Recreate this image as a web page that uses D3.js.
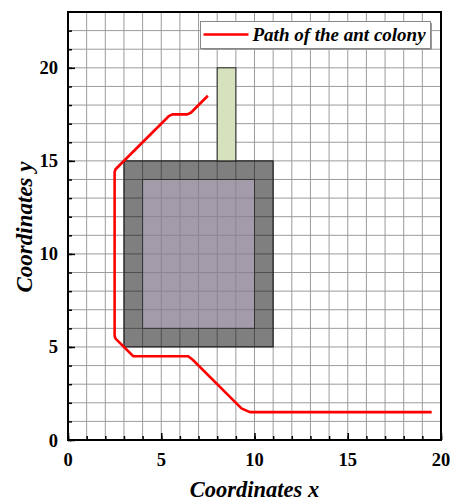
<!DOCTYPE html>
<html>
<head>
<meta charset="utf-8">
<script src="https://cdn.jsdelivr.net/npm/d3@7"></script>
<style>
  body { margin: 0; background: #fff; }
  svg { display: block; }
  text { font-family: "Liberation Serif", "Times New Roman", serif; }
</style>
</head>
<body>
<svg id="chart" width="451" height="504"></svg>
<script>
// Axis ranges and tick values
const xDomain = [0, 20];
const yDomain = [0, 23];
const majorTicksX = [0, 5, 10, 15, 20];
const majorTicksY = [0, 5, 10, 15, 20];
const minorTicksX = d3.range(0, 21, 1);
const minorTicksY = d3.range(0, 23, 1);

// Obstacles: outer wall, inner room, chimney (x0, x1, y0, y1)
const blockX0 = [3, 4, 8];
const blockX1 = [11, 10, 9];
const blockY0 = [5, 6, 15];
const blockY1 = [15, 14, 20];

// Route of the ant colony
const pathX = [19.5, 9.75, 9.3, 6.7, 6.45, 3.5, 2.55, 2.5, 2.5, 2.55, 5.4, 5.6, 6.4, 6.6, 7.5];
const pathY = [1.5, 1.5, 1.7, 4.3, 4.5, 4.5, 5.45, 5.6, 14.4, 14.55, 17.4, 17.5, 17.5, 17.6, 18.5];

const legendLabel = "Path of the ant colony";
const xTitle = "Coordinates x";
const yTitle = "Coordinates y";

const W = 451, H = 504;
const margin = { left: 68, right: 10, top: 12, bottom: 64 };
const svg = d3.select("#chart");

const x = d3.scaleLinear().domain(xDomain).range([margin.left, W - margin.right]);
const y = d3.scaleLinear().domain(yDomain).range([H - margin.bottom, margin.top]);

const plot = svg.append("g");

// background grid
plot.append("g").selectAll("line").data(minorTicksX).join("line")
  .attr("x1", d => x(d)).attr("x2", d => x(d))
  .attr("y1", y(yDomain[0])).attr("y2", y(yDomain[1]))
  .attr("stroke", "#9c9c9c").attr("stroke-width", 1);
plot.append("g").selectAll("line").data(minorTicksY).join("line")
  .attr("y1", d => y(d)).attr("y2", d => y(d))
  .attr("x1", x(xDomain[0])).attr("x2", x(xDomain[1]))
  .attr("stroke", "#9c9c9c").attr("stroke-width", 1);

// outer wall (ring between outer and inner rectangles)
const ring = d3.path();
ring.rect(x(blockX0[0]), y(blockY1[0]), x(blockX1[0]) - x(blockX0[0]), y(blockY0[0]) - y(blockY1[0]));
ring.rect(x(blockX0[1]), y(blockY1[1]), x(blockX1[1]) - x(blockX0[1]), y(blockY0[1]) - y(blockY1[1]));
plot.append("path").attr("d", ring.toString())
  .attr("fill", "rgba(0,0,0,0.5)").attr("fill-rule", "evenodd");
plot.append("rect")
  .attr("x", x(blockX0[0])).attr("y", y(blockY1[0]))
  .attr("width", x(blockX1[0]) - x(blockX0[0])).attr("height", y(blockY0[0]) - y(blockY1[0]))
  .attr("fill", "none").attr("stroke", "#111").attr("stroke-width", 1);

// inner room
plot.append("rect")
  .attr("x", x(blockX0[1])).attr("y", y(blockY1[1]))
  .attr("width", x(blockX1[1]) - x(blockX0[1])).attr("height", y(blockY0[1]) - y(blockY1[1]))
  .attr("fill", "rgba(134,124,142,0.76)").attr("stroke", "#333").attr("stroke-width", 1);

// chimney
plot.append("rect")
  .attr("x", x(blockX0[2])).attr("y", y(blockY1[2]))
  .attr("width", x(blockX1[2]) - x(blockX0[2])).attr("height", y(blockY0[2]) - y(blockY1[2]))
  .attr("fill", "#d6e1bd").attr("stroke", "#222").attr("stroke-width", 1);

// ant colony route
const pts = pathX.map((d, i) => [d, pathY[i]]);
plot.append("path")
  .attr("d", d3.line().x(d => x(d[0])).y(d => y(d[1]))(pts))
  .attr("fill", "none").attr("stroke", "#ff0000").attr("stroke-width", 2.6)
  .attr("stroke-linejoin", "round");

// inward ticks
svg.append("g").attr("transform", `translate(0,${y(0)})`)
  .call(d3.axisBottom(x).tickValues(minorTicksX).tickSize(-4).tickFormat(""));
svg.append("g").attr("transform", `translate(0,${y(0)})`)
  .call(d3.axisBottom(x).tickValues(majorTicksX).tickSize(-7).tickFormat(""));
svg.append("g").attr("transform", `translate(${x(0)},0)`)
  .call(d3.axisLeft(y).tickValues(minorTicksY).tickSize(-4).tickFormat(""));
svg.append("g").attr("transform", `translate(${x(0)},0)`)
  .call(d3.axisLeft(y).tickValues(majorTicksY).tickSize(-7).tickFormat(""));
svg.selectAll(".domain").remove();
svg.selectAll(".tick line").attr("stroke", "#000").attr("stroke-width", 1.5);

// frame
svg.append("rect")
  .attr("x", x(xDomain[0])).attr("y", y(yDomain[1]))
  .attr("width", x(xDomain[1]) - x(xDomain[0])).attr("height", y(yDomain[0]) - y(yDomain[1]))
  .attr("fill", "none").attr("stroke", "#000").attr("stroke-width", 2);

// tick labels
svg.append("g").selectAll("text").data(majorTicksX).join("text")
  .attr("x", d => x(d)).attr("y", y(0) + 26)
  .attr("text-anchor", "middle").attr("font-size", 18.5).attr("font-weight", "bold")
  .text(d => d);
svg.append("g").selectAll("text").data(majorTicksY).join("text")
  .attr("x", x(0) - 10).attr("y", d => y(d) + 6.5)
  .attr("text-anchor", "end").attr("font-size", 18.5).attr("font-weight", "bold")
  .text(d => d);

// axis titles
svg.append("text")
  .attr("x", (x(xDomain[0]) + x(xDomain[1])) / 2).attr("y", 497)
  .attr("text-anchor", "middle").attr("font-size", 22.5)
  .attr("font-weight", "bold").attr("font-style", "italic")
  .text(xTitle);
svg.append("text")
  .attr("transform", `translate(32,227) rotate(-90)`)
  .attr("text-anchor", "middle").attr("font-size", 23)
  .attr("font-weight", "bold").attr("font-style", "italic")
  .text(yTitle);

// legend
const lg = svg.append("g").attr("transform", "translate(200.5,21.5)");
lg.append("rect").attr("x", 1.5).attr("y", 1.5).attr("width", 230).attr("height", 27).attr("fill", "#9a9a9a");
lg.append("rect").attr("width", 230).attr("height", 27)
  .attr("fill", "#fff").attr("stroke", "#888").attr("stroke-width", 1);
lg.append("line").attr("x1", 3).attr("x2", 48).attr("y1", 13).attr("y2", 13)
  .attr("stroke", "#ff0000").attr("stroke-width", 2.6);
lg.append("text").attr("x", 52).attr("y", 19.5)
  .attr("font-size", 19).attr("font-weight", "bold").attr("font-style", "italic")
  .text(legendLabel);
</script>
</body>
</html>
